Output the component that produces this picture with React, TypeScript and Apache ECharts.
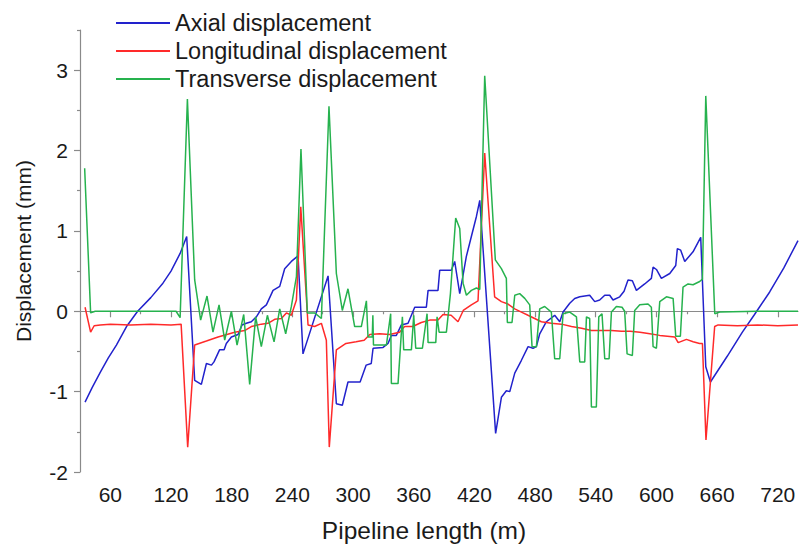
import React, { useEffect, useRef } from "react";
import * as echarts from "echarts";

// Displacement along the pipeline, [length (m), displacement (mm)]
const axial: [number, number][] = [
  [35, -1.13], [42, -0.95], [50, -0.76], [58, -0.58], [66, -0.42], [76, -0.19], [87, 0.0],
  [100, 0.17], [112, 0.35], [120, 0.5], [129, 0.72], [135.5, 0.93],
  [143.4, -0.86], [150, -0.91], [155, -0.65], [160, -0.67], [162.5, -0.63], [168, -0.48],
  [172.5, -0.48], [174.7, -0.4], [179.7, -0.32], [186.3, -0.29], [190.2, -0.17], [194.5, -0.15],
  [199.4, -0.13], [204.4, -0.07], [209.3, 0.03], [214.3, 0.08], [220.9, 0.26], [227.5, 0.31],
  [232.4, 0.53], [239, 0.62], [245.6, 0.69],
  [250.5, -0.53], [275.3, 0.44],
  [283.5, -1.15], [289.4, -1.17], [295, -0.88], [307, -0.88], [313, -0.67], [318, -0.65],
  [319.8, -0.46], [329.7, -0.45], [334.6, -0.4], [337.9, -0.3], [342.8, -0.3], [347.8, -0.17],
  [354.4, -0.15], [361, 0.05], [372.5, 0.05], [374.2, 0.26], [384, 0.26], [385.7, 0.51],
  [397.2, 0.51], [400.5, 0.62], [405.5, 0.22], [408.8, 0.45], [412, 0.68], [417, 0.93],
  [422, 1.18], [425.3, 1.38],
  [441, -1.52], [446.7, -1.07], [451.6, -0.99], [455, -1.0], [459.9, -0.77], [466.5, -0.61],
  [473.1, -0.44], [478, -0.46], [481.3, -0.44], [484.6, -0.28], [491.2, -0.13], [499.4, -0.05],
  [504.4, -0.13], [507.7, -0.01], [514.3, 0.1], [519.2, 0.16], [524.2, 0.18], [534, 0.2],
  [539, 0.12], [543.9, 0.14], [548.9, 0.2], [553.8, 0.2], [557.1, 0.14], [563.7, 0.18],
  [568, 0.25], [571.9, 0.39], [576.2, 0.38], [580.2, 0.26], [588.4, 0.34], [595, 0.41],
  [596.7, 0.55], [600, 0.52], [604.9, 0.41], [613.2, 0.47], [619.1, 0.57], [620.7, 0.78],
  [624, 0.76], [628, 0.62], [636.2, 0.74], [643.8, 0.92],
  [648.8, -0.69], [653.4, -0.88], [670, -0.56], [685, -0.26], [697, -0.04], [712, 0.24],
  [726, 0.54], [740, 0.88],
];

const longitudinal: [number, number][] = [
  [35, 0.05], [40.5, -0.26], [44, -0.18], [50, -0.17], [60, -0.16], [80, -0.17], [100, -0.16],
  [120, -0.17], [130, -0.16], [136.5, -1.69], [143.4, -0.42], [155, -0.37], [166.5, -0.32],
  [183, -0.26], [192.8, -0.24], [199.4, -0.19], [209.3, -0.16], [215.9, -0.15], [222.5, -0.1],
  [229.1, -0.09], [234.1, -0.02], [239, -0.05], [244, 0.14], [248.3, 1.3], [255.5, -0.17],
  [262, -0.19], [268.7, -0.15], [273.6, -0.36], [276.5, -1.69], [283.5, -0.48], [293, -0.4],
  [303, -0.38], [311, -0.36], [316.6, -0.29], [326.3, -0.28], [336, -0.29], [346, -0.26],
  [351, -0.19], [359, -0.19], [367.5, -0.14], [375.8, -0.11], [384, -0.11], [389, -0.04],
  [397, -0.05], [403.8, -0.13], [409, 0.01], [417, 0.08], [423.6, 0.13], [430.2, 1.97],
  [440, 0.18], [446.7, 0.12], [453.2, 0.09], [459.9, 0.03], [466.5, -0.01], [473, -0.05],
  [479.6, -0.09], [486.2, -0.13], [496, -0.15], [506, -0.16], [516, -0.19], [526, -0.21],
  [535.7, -0.24], [545.6, -0.24], [555.5, -0.24], [565.4, -0.25], [574, -0.25], [583.7, -0.26],
  [593.5, -0.28], [603.3, -0.3], [618.2, -0.32], [621.5, -0.39], [629.7, -0.35], [636.3, -0.38],
  [642.7, -0.4], [645.5, -0.4], [649, -1.6], [657.6, -0.19], [661, -0.17], [680, -0.18],
  [700, -0.17], [720, -0.18], [740, -0.17],
];

const transverse: [number, number][] = [
  [34.6, 1.78], [40.5, -0.02], [45, 0.0], [80, 0.0], [125, 0.0], [129, -0.08], [136.2, 2.64],
  [143.4, 0.39], [149.3, -0.11], [155.6, 0.19], [161.5, -0.26], [167.5, 0.08], [173.1, -0.36],
  [179.7, 0.0], [185.3, -0.42], [191.9, -0.04], [197.8, -0.91], [203.7, -0.07], [209.3, -0.44],
  [215.3, -0.05], [221.9, -0.38], [227.5, 0.03], [233.4, -0.28], [239, 0.06], [244, 0.43],
  [248.5, 2.02], [254.8, -0.02], [262, -0.02], [268.7, -0.09], [276.2, 2.55], [283.5, 0.47],
  [289.4, 0.01], [295, 0.28], [301.6, -0.19], [308.2, -0.19], [313.2, 0.13], [314.8, -0.32],
  [319, -0.32], [319.6, -0.05], [320.2, -0.42], [333, -0.42], [337.2, -0.03], [337.9, -0.9],
  [344.5, -0.9], [348.8, -0.07], [350.1, -0.48], [357.7, -0.48], [360, -0.05], [362, -0.46],
  [368.6, -0.46], [373.2, -0.03], [374.2, -0.39], [381.8, -0.39], [383.1, -0.07], [385.1, -0.26],
  [392.3, -0.26], [396.3, 0.22], [401.5, 1.16], [405.5, 1.03], [408.8, 0.35], [412.1, 0.2],
  [417, 0.26], [422, 0.29], [425.3, 0.27], [430.2, 2.93], [440.7, 0.64], [446.7, 0.53],
  [451.6, 0.41], [452.6, -0.14], [457.2, -0.14], [459.9, 0.2], [464.8, 0.22], [469.8, 0.16],
  [474.7, 0.08], [477, -0.44], [481.3, -0.44], [484.6, 0.03], [489.5, 0.06], [496.1, -0.01],
  [499.4, -0.59], [504.4, -0.59], [507.7, -0.03], [514.3, -0.01], [520.9, -0.07], [524.2, -0.63],
  [529.1, -0.63], [530.8, -0.07], [534, -0.09], [535.7, -1.19], [540.6, -1.19], [543, -0.07],
  [546.2, -0.03], [548.9, -0.59], [553.2, -0.59], [555.5, -0.01], [560.4, 0.06], [566, 0.05],
  [568.6, 0.0], [571, -0.53], [576.2, -0.55], [578.5, 0.01], [583.5, 0.08], [591.7, 0.09],
  [595, 0.05], [596.7, -0.44], [600, -0.46], [603.3, 0.12], [609.9, 0.18], [616.5, 0.16],
  [619.1, -0.31], [623.7, -0.31], [626.3, 0.3], [631.3, 0.34], [636.2, 0.33], [642.8, 0.37],
  [645.5, 0.4], [648.8, 2.68], [657.7, -0.03], [662.6, -0.01], [700, 0.0], [740, 0.0],
];

const seriesNames = ["Axial displacement", "Longitudinal displacement", "Transverse displacement"];
const seriesColors = ["#2222cc", "#ff2a2a", "#26b24e"];

// Axis ticks
const xMajorTicks = [60, 120, 180, 240, 300, 360, 420, 480, 540, 600, 660, 720];
const xMinorTicks = [90, 150, 210, 270, 330, 390, 450, 510, 570, 630, 690];
const yMajorTicks = [-2, -1, 0, 1, 2, 3];
const yMinorTicks = [-1.5, -0.5, 0.5, 1.5, 2.5, 3.5];

const FONT = "'Liberation Sans', Arial, sans-serif";
const AXIS_GREY = "#8a8a8a";
const TEXT = "#1a1a1a";

export default function App() {
  const ref = useRef<HTMLDivElement>(null);

  useEffect(() => {
    if (!ref.current) return;
    const chart = echarts.init(ref.current, undefined, { renderer: "svg" });

    const xBase = {
      type: "value" as const,
      min: 30,
      max: 740,
      position: "bottom" as const,
      splitLine: { show: false },
    };
    const yBase = {
      type: "value" as const,
      min: -2,
      max: 3.5,
      position: "left" as const,
      splitLine: { show: false },
    };

    chart.setOption({
      animation: false,
      backgroundColor: "#ffffff",
      textStyle: { fontFamily: FONT },
      grid: {
        left: 80,
        right: 1,
        top: 30,
        bottom: 76,
        containLabel: false,
        outerBoundsMode: "none",
      },
      legend: {
        orient: "vertical",
        left: 111,
        top: 6,
        itemWidth: 54,
        itemHeight: 14,
        itemGap: 4,
        icon: "path://M0,6 L54,6 L54,8 L0,8 Z",
        data: seriesNames,
        textStyle: { fontSize: 23.5, color: TEXT, fontFamily: FONT, lineHeight: 24 },
      },
      xAxis: [
        {
          ...xBase,
          name: "Pipeline length (m)",
          nameLocation: "middle",
          nameGap: 46,
          nameTextStyle: {
            fontSize: 24.5,
            color: TEXT,
            fontFamily: FONT,
            padding: [0, 30, 0, 0],
          },
          axisLine: { show: true, lineStyle: { color: AXIS_GREY, width: 1.2 } },
          axisTick: {
            show: true,
            inside: false,
            length: 6,
            customValues: xMajorTicks,
            lineStyle: { color: AXIS_GREY, width: 1.2 },
          },
          axisLabel: {
            show: true,
            customValues: xMajorTicks,
            margin: 12,
            fontSize: 21,
            color: TEXT,
            fontFamily: FONT,
          },
        },
        {
          ...xBase,
          axisLine: { show: false },
          axisLabel: { show: false },
          axisTick: {
            show: true,
            inside: false,
            length: 3,
            customValues: xMinorTicks,
            lineStyle: { color: AXIS_GREY, width: 1.2 },
          },
        },
      ],
      yAxis: [
        {
          ...yBase,
          name: "Displacement (mm)",
          nameLocation: "middle",
          nameGap: 46,
          nameTextStyle: { fontSize: 21, color: TEXT, fontFamily: FONT },
          axisLine: { show: true, lineStyle: { color: AXIS_GREY, width: 1.2 } },
          axisTick: {
            show: true,
            inside: false,
            length: 6,
            customValues: yMajorTicks,
            lineStyle: { color: AXIS_GREY, width: 1.2 },
          },
          axisLabel: {
            show: true,
            customValues: yMajorTicks,
            margin: 12,
            fontSize: 21,
            color: TEXT,
            fontFamily: FONT,
          },
        },
        {
          ...yBase,
          axisLine: { show: false },
          axisLabel: { show: false },
          axisTick: {
            show: true,
            inside: false,
            length: 3,
            customValues: yMinorTicks,
            lineStyle: { color: AXIS_GREY, width: 1.2 },
          },
        },
      ],
      series: [axial, longitudinal, transverse].map((data, i) => ({
        name: seriesNames[i],
        type: "line",
        xAxisIndex: 0,
        yAxisIndex: 0,
        data,
        symbol: "none",
        showSymbol: false,
        color: seriesColors[i],
        lineStyle: { color: seriesColors[i], width: 1.5 },
        clip: true,
      })),
    });

    return () => chart.dispose();
  }, []);

  return (
    <div
      ref={ref}
      style={{ position: "absolute", left: 0, top: 0, width: 799, height: 548 }}
    />
  );
}
